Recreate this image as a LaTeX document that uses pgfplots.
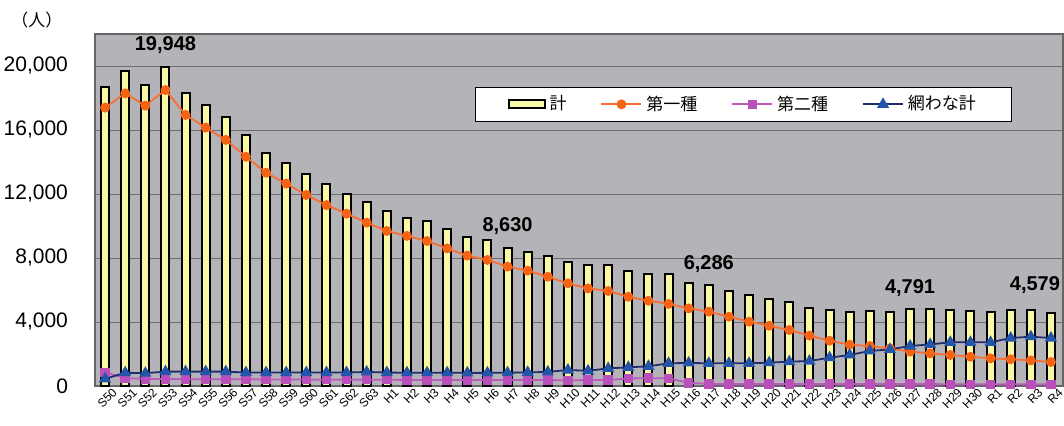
\documentclass[border=0pt]{standalone}
\usepackage{fontspec}
\setmainfont{Liberation Sans}
\newfontfamily\jp{Noto Sans CJK JP}
\usepackage{pgfplots}
\pgfplotsset{compat=1.18}
\usepackage{pgfplotstable}
\definecolor{bgc}{RGB}{180,180,184}
\definecolor{gridc}{RGB}{110,110,112}
\definecolor{baryel}{RGB}{250,248,165}
\definecolor{orl}{RGB}{250,110,50}
\definecolor{orm}{RGB}{245,100,20}
\definecolor{pul}{RGB}{190,90,190}
\definecolor{pum}{RGB}{185,80,185}
\definecolor{nvl}{RGB}{30,45,110}
\definecolor{blm}{RGB}{35,85,170}

\pgfplotstableread{
x total dai1 dai2 ami
0 18700 17400 850 450
1 19700 18290 480 830
2 18800 17520 450 800
3 19948 18500 430 900
4 18290 16940 430 900
5 17540 16150 420 900
6 16830 15380 420 900
7 15690 14330 420 840
8 14580 13330 410 840
9 13920 12650 410 840
10 13230 11940 400 840
11 12650 11310 400 840
12 12000 10770 400 840
13 11520 10210 400 880
14 10940 9690 390 840
15 10480 9380 380 830
16 10310 9060 380 830
17 9810 8600 380 830
18 9290 8150 380 820
19 9100 7880 380 820
20 8630 7460 370 830
21 8400 7210 370 850
22 8120 6830 370 880
23 7770 6420 360 1000
24 7540 6100 370 950
25 7540 5940 380 1100
26 7210 5580 470 1170
27 7020 5330 490 1230
28 6980 5130 480 1420
29 6460 4850 200 1440
30 6286 4650 130 1420
31 5960 4330 130 1420
32 5690 4020 130 1420
33 5440 3770 130 1460
34 5230 3500 130 1520
35 4880 3150 130 1560
36 4750 2830 130 1770
37 4600 2580 120 1940
38 4690 2500 120 2190
39 4630 2350 120 2290
40 4791 2150 120 2500
41 4790 2040 120 2600
42 4730 1940 110 2730
43 4690 1830 110 2730
44 4600 1730 110 2730
45 4730 1670 110 3000
46 4750 1600 110 3080
47 4579 1500 110 3000
}\datatable

\begin{document}
\begin{tikzpicture}
\path[use as bounding box] (-47.5pt,-19.5pt) rectangle (484.5pt,193pt);
\begin{axis}[
  at={(0,0)}, anchor=south west,
  scale only axis, width=484pt, height=176pt,
  xmin=-0.5, xmax=47.6, ymin=0, ymax=22000,
  clip=false,
  axis background/.style={fill=bgc},
  axis line style={draw=gray!80!black, line width=0.6pt},
  ytick={0,4000,8000,12000,16000,20000},
  ymajorgrids, major grid style={draw=gridc, line width=0.5pt},
  major tick length=0pt,
  xtick={0,...,47},
  xticklabels={S50,S51,S52,S53,S54,S55,S56,S57,S58,S59,S60,S61,S62,S63,H1,H2,H3,H4,H5,H6,H7,H8,H9,H10,H11,H12,H13,H14,H15,H16,H17,H18,H19,H20,H21,H22,H23,H24,H25,H26,H27,H28,H29,H30,R1,R2,R3,R4},
  xticklabel style={rotate=45, anchor=east, font=\fontsize{6}{7}\selectfont, inner sep=0.5pt, yshift=-5pt, xshift=2.5pt},
  yticklabel style={font=\fontsize{10.5}{12}\selectfont, xshift=-10pt},
  /pgf/number format/assume math mode=true,
  /pgf/number format/1000 sep={,},
  scaled y ticks=false,
  legend image code/.code={\draw[mark repeat=2,mark phase=2,#1] plot coordinates {(0pt,0pt) (10pt,0pt) (20pt,0pt)};},
  legend style={at={(rel axis cs:0.3926,0.849)}, anchor=north west,
    fill=white, draw=black, line width=0.5pt,
    font=\jp\fontsize{8.5}{10}\selectfont,
    inner xsep=16pt, inner ysep=2pt},
  legend columns=4,
  legend cell align=left,
  /tikz/every even column/.append style={column sep=15pt},
]
\addplot[ybar, bar width=4pt, fill=baryel, draw=black, line width=1pt,
  legend image code/.code={\draw[fill=baryel, draw=black, line width=1pt] (0pt,-2pt) rectangle (18pt,2pt);}]
  table[x=x, y=total] {\datatable};
\addlegendentry{計}
\addplot[color=orl, line width=0.9pt, mark=*, mark size=2pt, mark options={fill=orm, draw=orm}]
  table[x=x, y=dai1] {\datatable};
\addlegendentry{第一種}
\addplot[color=pul, line width=0.9pt, mark=square*, mark size=1.9pt, mark options={fill=pum, draw=pum}]
  table[x=x, y=dai2] {\datatable};
\addlegendentry{第二種}
\addplot[color=nvl, line width=0.9pt, mark=triangle*, mark size=2.6pt, mark options={fill=blm, draw=blm}]
  table[x=x, y=ami] {\datatable};
\addlegendentry{網わな計}

\node[anchor=base, inner sep=0pt, font=\bfseries\fontsize{10}{12}\selectfont] at (axis cs:3,19948) [yshift=8pt] {19,948};
\node[anchor=base, inner sep=0pt, font=\bfseries\fontsize{10}{12}\selectfont] at (axis cs:20,8630) [yshift=8pt] {8,630};
\node[anchor=base, inner sep=0pt, font=\bfseries\fontsize{10}{12}\selectfont] at (axis cs:30,6286) [yshift=8pt] {6,286};
\node[anchor=base, inner sep=0pt, font=\bfseries\fontsize{10}{12}\selectfont] at (axis cs:40,4791) [yshift=8pt] {4,791};
\node[anchor=base, inner sep=0pt, font=\bfseries\fontsize{10}{12}\selectfont] at (axis cs:47,4579) [yshift=11pt, xshift=-8pt] {4,579};
\node[font=\jp\fontsize{8.5}{10}\selectfont] at (rel axis cs:-0.06,1.0) [yshift=7pt] {（人）};
\end{axis}
\end{tikzpicture}
\end{document}
